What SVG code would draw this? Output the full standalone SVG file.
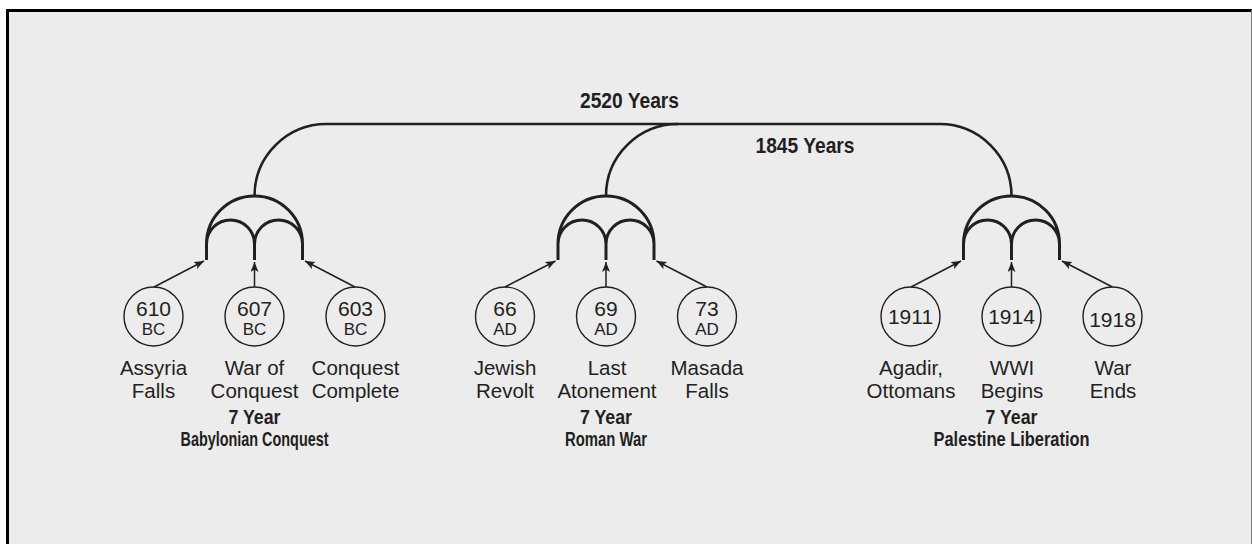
<svg xmlns="http://www.w3.org/2000/svg" width="1252" height="544" viewBox="0 0 1252 544">
<defs>
<marker id="ah" viewBox="0 0 10 8" refX="10" refY="4" markerWidth="10" markerHeight="8" markerUnits="userSpaceOnUse" orient="auto">
<path d="M0,0 L10,4 L0,8 L2.5,4 Z" fill="#231f20"/>
</marker>
<g id="arch">
<path d="M-48,16 V0 A48,48 0 0 1 48,0 V16 M-48,0 A24,24 0 0 1 0,0 A24,24 0 0 1 48,0 M0,0 V16" fill="none" stroke="#231f20" stroke-width="3"/>
</g>
</defs>
<style>
.bg{fill:#ececec}
.circ{fill:none;stroke:#231f20;stroke-width:1.4}
.arr{fill:none;stroke:#231f20;stroke-width:1.5}
.main{fill:none;stroke:#231f20;stroke-width:2.6}
text{font-family:"Liberation Sans",Arial,sans-serif;fill:#231f20;text-anchor:middle}
.num{font-size:21px}
.era{font-size:17px}
.lbl{font-size:20.5px}
.ttl{font-size:22px;font-weight:bold}
.sub{font-size:21px;font-weight:bold}
</style>
<rect x="0" y="0" width="1252" height="544" fill="#ffffff"/>
<rect class="bg" x="7" y="10" width="1245" height="540"/>
<path d="M7.5,560 V10.5 H1252" fill="none" stroke="#000" stroke-width="3"/>
<line x1="1251.5" y1="10" x2="1251.5" y2="544" stroke="#777" stroke-width="1"/>

<g id="connectors">
<path class="main" d="M254.5,196 A72,72 0 0 1 326.5,124 H939.5 A72,72 0 0 1 1011.5,196"/>
<path class="main" d="M606,196 A72,72 0 0 1 678,124"/>
<use href="#arch" x="254.5" y="244"/>
<use href="#arch" x="606" y="244"/>
<use href="#arch" x="1011.5" y="244"/>
<line class="arr" x1="154" y1="287" x2="204" y2="261" marker-end="url(#ah)"/>
<line class="arr" x1="254.5" y1="287" x2="254.5" y2="262" marker-end="url(#ah)"/>
<line class="arr" x1="355" y1="287" x2="305" y2="261" marker-end="url(#ah)"/>
<line class="arr" x1="505" y1="287" x2="555.5" y2="261" marker-end="url(#ah)"/>
<line class="arr" x1="606" y1="287" x2="606" y2="262" marker-end="url(#ah)"/>
<line class="arr" x1="707" y1="287" x2="656.5" y2="261" marker-end="url(#ah)"/>
<line class="arr" x1="911" y1="287" x2="961" y2="261" marker-end="url(#ah)"/>
<line class="arr" x1="1011.5" y1="287" x2="1011.5" y2="262" marker-end="url(#ah)"/>
<line class="arr" x1="1112.5" y1="287" x2="1062" y2="261" marker-end="url(#ah)"/>
</g>

<g id="spans">
<text class="ttl" x="629.5" y="108" textLength="99" lengthAdjust="spacingAndGlyphs">2520 Years</text>
<text class="ttl" x="805" y="152.5" textLength="99" lengthAdjust="spacingAndGlyphs">1845 Years</text>
</g>

<g id="n610"><circle class="circ" cx="153.5" cy="316.5" r="29.5"/><text class="num" x="153.5" y="315.5">610</text><text class="era" x="153.5" y="335">BC</text><text class="lbl" x="153.5" y="375">Assyria</text><text class="lbl" x="153.5" y="398">Falls</text></g>
<g id="n607"><circle class="circ" cx="254.5" cy="316.5" r="29.5"/><text class="num" x="254.5" y="315.5">607</text><text class="era" x="254.5" y="335">BC</text><text class="lbl" x="254.5" y="375">War of</text><text class="lbl" x="254.5" y="398">Conquest</text></g>
<g id="n603"><circle class="circ" cx="355.5" cy="316.5" r="29.5"/><text class="num" x="355.5" y="315.5">603</text><text class="era" x="355.5" y="335">BC</text><text class="lbl" x="355.5" y="375">Conquest</text><text class="lbl" x="355.5" y="398">Complete</text></g>

<g id="n66"><circle class="circ" cx="505" cy="316.5" r="29.5"/><text class="num" x="505" y="315.5">66</text><text class="era" x="505" y="335">AD</text><text class="lbl" x="505" y="375">Jewish</text><text class="lbl" x="505" y="398">Revolt</text></g>
<g id="n69"><circle class="circ" cx="606" cy="316.5" r="29.5"/><text class="num" x="606" y="315.5">69</text><text class="era" x="606" y="335">AD</text><text class="lbl" x="607" y="375">Last</text><text class="lbl" x="607" y="398">Atonement</text></g>
<g id="n73"><circle class="circ" cx="707" cy="316.5" r="29.5"/><text class="num" x="707" y="315.5">73</text><text class="era" x="707" y="335">AD</text><text class="lbl" x="707" y="375">Masada</text><text class="lbl" x="707" y="398">Falls</text></g>

<g id="n1911"><circle class="circ" cx="910.5" cy="316.5" r="29.5"/><text class="num" x="910.5" y="324">1911</text><text class="lbl" x="911" y="375">Agadir,</text><text class="lbl" x="911" y="398">Ottomans</text></g>
<g id="n1914"><circle class="circ" cx="1011.5" cy="316.5" r="29.5"/><text class="num" x="1011.5" y="324">1914</text><text class="lbl" x="1012" y="375">WWI</text><text class="lbl" x="1012" y="398">Begins</text></g>
<g id="n1918"><circle class="circ" cx="1112.5" cy="316.5" r="29.5"/><text class="num" x="1112.5" y="326.5">1918</text><text class="lbl" x="1113" y="375">War</text><text class="lbl" x="1113" y="398">Ends</text></g>

<g id="g1"><text class="sub" x="254.5" y="424" textLength="52" lengthAdjust="spacingAndGlyphs">7 Year</text><text class="sub" x="254.5" y="446" textLength="148" lengthAdjust="spacingAndGlyphs">Babylonian Conquest</text></g>
<g id="g2"><text class="sub" x="606" y="424" textLength="52" lengthAdjust="spacingAndGlyphs">7 Year</text><text class="sub" x="606" y="446" textLength="82" lengthAdjust="spacingAndGlyphs">Roman War</text></g>
<g id="g3"><text class="sub" x="1011.5" y="424" textLength="52" lengthAdjust="spacingAndGlyphs">7 Year</text><text class="sub" x="1011.5" y="446" textLength="156" lengthAdjust="spacingAndGlyphs">Palestine Liberation</text></g>
</svg>
